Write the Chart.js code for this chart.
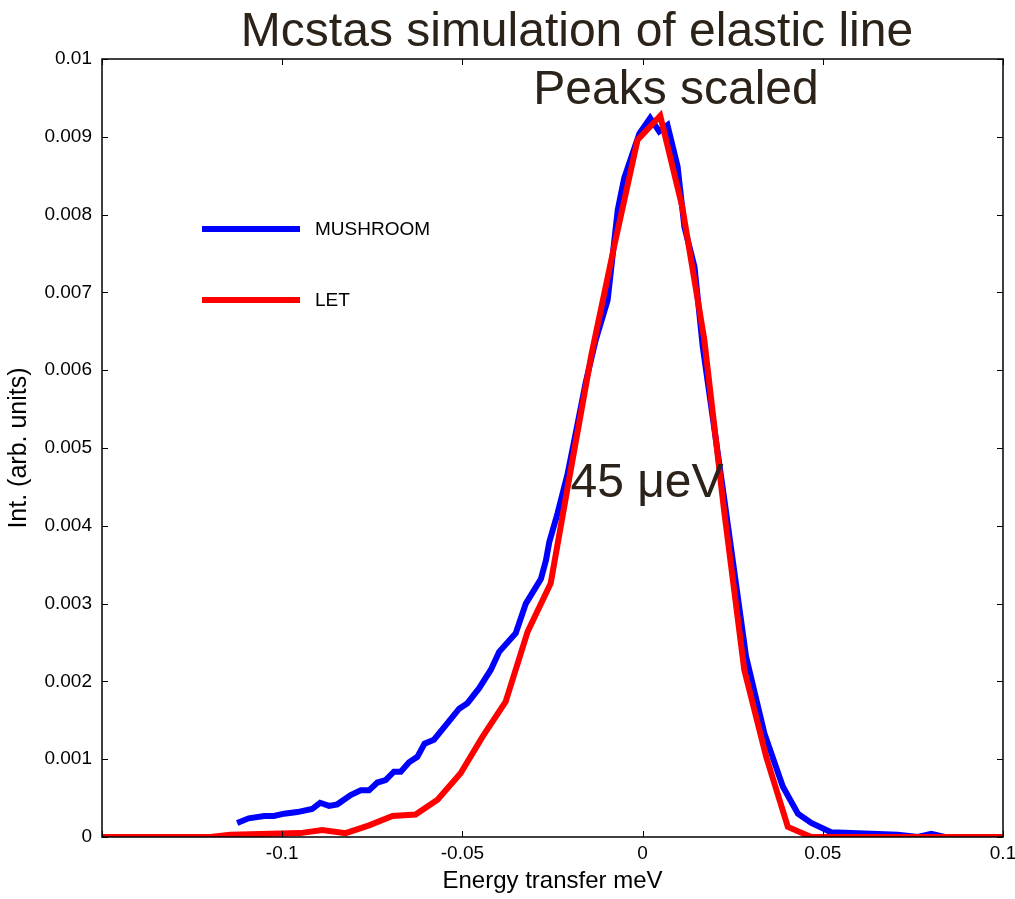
<!DOCTYPE html>
<html>
<head>
<meta charset="utf-8">
<script src="https://cdn.jsdelivr.net/npm/chart.js@4"></script>
<style>
  html, body { margin: 0; padding: 0; background: #fff; }
  #wrap { width: 1015px; height: 899px; }
</style>
</head>
<body>
<div id="wrap"><canvas id="chart" width="1015" height="899"></canvas></div>
<script>
// energy transfer (meV) and intensity
let mushroomX = [-0.1125, -0.1093, -0.105, -0.1023, -0.0995, -0.0958, -0.0917, -0.0895, -0.087, -0.0847,
    -0.081, -0.0782, -0.0759, -0.0736, -0.0713, -0.069, -0.0671, -0.0648, -0.0625, -0.0605,
    -0.0579, -0.0542, -0.0509, -0.0486, -0.0454, -0.0421, -0.0398, -0.0352, -0.0324, -0.0282,
    -0.0268, -0.0259, -0.0236, -0.0208, -0.018, -0.0158, -0.013, -0.0097, -0.0069, -0.0051,
    -0.0009, 0.0021, 0.0046, 0.0069, 0.0097, 0.0116, 0.0144, 0.0167, 0.0227, 0.0287,
    0.0338, 0.0389, 0.0431, 0.0468, 0.0523, 0.0579, 0.0708, 0.0764, 0.0801, 0.0838, 0.1];
let mushroomY = [0.00018, 0.00024, 0.00027, 0.00027, 0.0003, 0.00032, 0.00036, 0.00044, 0.0004, 0.00042,
    0.00054, 0.0006, 0.0006, 0.0007, 0.00073, 0.00084, 0.00084, 0.00096, 0.00103, 0.0012,
    0.00125, 0.00146, 0.00165, 0.00172, 0.00191, 0.00215, 0.00238, 0.00262, 0.003, 0.00332,
    0.00356, 0.00379, 0.00416, 0.00467, 0.00532, 0.00584, 0.00639, 0.0069, 0.00806, 0.00847,
    0.00904, 0.00924, 0.00907, 0.00915, 0.00862, 0.00784, 0.00733, 0.0063, 0.00433, 0.00232,
    0.00133, 0.00065, 0.0003, 0.00018, 0.00006, 0.00005, 0.00003, 0, 0.00004, 0, 0];

let letX = [-0.15, -0.12, -0.1144, -0.095, -0.0889, -0.0824, -0.0759, -0.0694, -0.063, -0.0569,
    -0.0505, -0.0444, -0.038, -0.0319, -0.0255, -0.0204, -0.0142, -0.0079, -0.0014, 0.0049,
    0.011, 0.0171, 0.0226, 0.0282, 0.0343, 0.0403, 0.0468, 0.1];
let letY = [0, 0, 0.00003, 0.00005, 0.00009, 0.00005, 0.00015, 0.00027, 0.00029, 0.00048,
    0.00082, 0.00129, 0.00174, 0.00264, 0.00326, 0.0046, 0.0062, 0.00759, 0.00896, 0.00927,
    0.0081, 0.0064, 0.0042, 0.00215, 0.00103, 0.00013, 0, 0];

let seriesNames = ['MUSHROOM', 'LET'];
let seriesColors = ['#0000ff', '#ff0000'];
let titleLines = ['Mcstas simulation of elastic line', 'Peaks scaled'];
let noteText = '45 μeV';

function toPoints(xs, ys) {
    return xs.map(function (v, i) { return { x: v, y: ys[i] }; });
}

let textColor = '#2b2219';
let font = '"Liberation Sans", Arial, sans-serif';

// box, inward ticks, legend and big texts, matlab style
let decorations = {
    id: 'decorations',
    afterDraw: function (chart) {
        let ctx = chart.ctx;
        let a = chart.chartArea;
        let xs = chart.scales.x;
        let ys = chart.scales.y;
        ctx.save();
        ctx.strokeStyle = '#000';
        ctx.lineWidth = 1.5;
        ctx.strokeRect(a.left, a.top, a.right - a.left, a.bottom - a.top);
        ctx.lineWidth = 1;
        xs.ticks.forEach(function (t) {
            let px = Math.round(xs.getPixelForValue(t.value)) + 0.5;
            ctx.beginPath();
            ctx.moveTo(px, a.bottom); ctx.lineTo(px, a.bottom - 6);
            ctx.moveTo(px, a.top); ctx.lineTo(px, a.top + 6);
            ctx.stroke();
        });
        ys.ticks.forEach(function (t) {
            let py = Math.round(ys.getPixelForValue(t.value)) + 0.5;
            ctx.beginPath();
            ctx.moveTo(a.left, py); ctx.lineTo(a.left + 6, py);
            ctx.moveTo(a.right, py); ctx.lineTo(a.right - 6, py);
            ctx.stroke();
        });

        // legend
        chart.data.datasets.forEach(function (ds, i) {
            let y = 229 + i * 71;
            ctx.strokeStyle = ds.borderColor;
            ctx.lineWidth = 6;
            ctx.beginPath();
            ctx.moveTo(202, y); ctx.lineTo(300, y);
            ctx.stroke();
            ctx.fillStyle = '#000';
            ctx.font = '19px ' + font;
            ctx.textAlign = 'left';
            ctx.textBaseline = 'alphabetic';
            ctx.fillText(ds.label, 315, y + 6);
        });

        // title and note
        ctx.fillStyle = textColor;
        ctx.font = '48px ' + font;
        ctx.textAlign = 'center';
        ctx.textBaseline = 'alphabetic';
        ctx.fillText(titleLines[0], 577, 46);
        ctx.fillText(titleLines[1], 676, 104);
        ctx.fillText(noteText, 647, 497);
        ctx.restore();
    }
};

var ctx = document.getElementById('chart').getContext('2d');
var chart = new Chart(ctx, {
    type: 'line',
    data: {
        datasets: [{
            label: seriesNames[0],
            data: toPoints(mushroomX, mushroomY),
            borderColor: seriesColors[0],
            borderWidth: 6,
            pointRadius: 0,
            order: 1,
            fill: false
        }, {
            label: seriesNames[1],
            data: toPoints(letX, letY),
            borderColor: seriesColors[1],
            borderWidth: 6,
            pointRadius: 0,
            order: 0,
            fill: false
        }]
    },
    options: {
        responsive: false,
        animation: false,
        layout: { padding: { top: 59, right: 12, left: 0, bottom: 0 } },
        plugins: {
            legend: { display: false },
            tooltip: { enabled: false }
        },
        scales: {
            x: {
                type: 'linear',
                min: -0.15,
                max: 0.1,
                afterFit: function (s) { s.height = 62; s.paddingRight = 0; s.paddingLeft = 0; },
                grid: { display: false, drawTicks: false },
                border: { display: false },
                ticks: {
                    stepSize: 0.05,
                    color: '#000',
                    padding: 5,
                    maxRotation: 0,
                    font: { family: font, size: 19 },
                    callback: function (v) {
                        if (Math.abs(v + 0.15) < 1e-9) return '';
                        return String(+v.toFixed(2));
                    }
                },
                title: {
                    display: true,
                    text: 'Energy transfer meV',
                    color: '#000',
                    padding: { top: 0, bottom: 3 },
                    font: { family: font, size: 24 }
                }
            },
            y: {
                min: 0,
                max: 0.01,
                afterFit: function (s) { s.width = 102; },
                grid: { display: false, drawTicks: false },
                border: { display: false },
                ticks: {
                    stepSize: 0.001,
                    color: '#000',
                    padding: 10,
                    font: { family: font, size: 19 },
                    callback: function (v) { return String(+v.toFixed(3)); }
                },
                title: {
                    display: true,
                    text: 'Int. (arb. units)',
                    color: '#000',
                    padding: { top: 4, bottom: 4 },
                    font: { family: font, size: 25 }
                }
            }
        }
    },
    plugins: [decorations]
});
</script>
</body>
</html>
